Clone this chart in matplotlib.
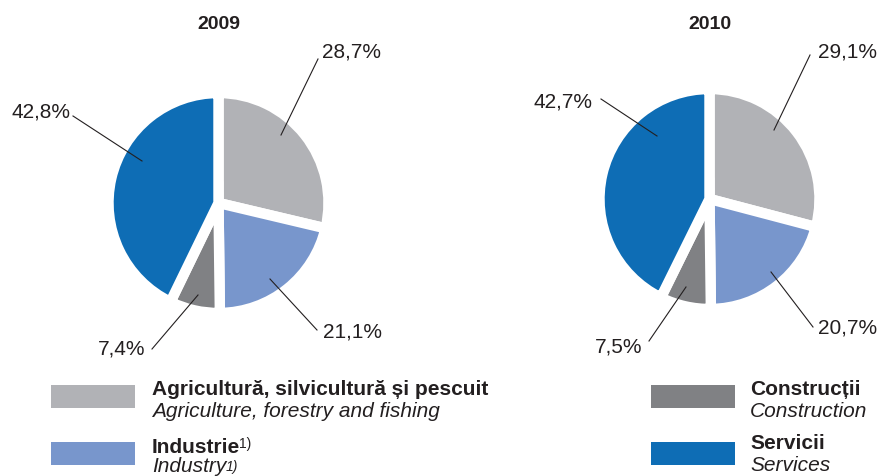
import matplotlib.pyplot as plt
from matplotlib.patches import Rectangle

plt.rcParams['font.family'] = ['Liberation Sans', 'DejaVu Sans']

W, H = 882, 477
TXT = '#231f20'

years = ['2009', '2010']
sectoare = ['Agricultură, silvicultură și pescuit', 'Industrie', 'Construcții', 'Servicii']
sectors = ['Agriculture, forestry and fishing', 'Industry', 'Construction', 'Services']
val_2009 = [28.7, 21.1, 7.4, 42.8]
val_2010 = [29.1, 20.7, 7.5, 42.7]
colors = ['#b1b2b6', '#7896cc', '#808184', '#0e6db5']

# layout in pixels (y from top)
centers = [(218.5, 204), (709.5, 200)]
radius = 110
# label: (x, baseline y, ha), line: (x0, y0, x1, y1)
labels_pos = [
    [(322, 58, 'left'), (323, 337, 'left'), (145, 355, 'right'), (70, 117, 'right')],
    [(818, 57, 'left'), (818, 334, 'left'), (642, 353, 'right'), (592, 107, 'right')],
]
lines_pos = [
    [(318, 60, 281, 136), (317, 331, 270, 280), (152, 350, 198, 296), (73, 117, 142, 162)],
    [(810, 56, 774, 131), (813, 328, 771, 273), (649, 342, 686, 288), (601, 100, 657, 137)],
]

fig = plt.figure(figsize=(8.82, 4.77), dpi=100)
ax = fig.add_axes([0, 0, 1, 1])

for k, vals in enumerate([val_2009, val_2010]):
    cx, cy = centers[k]
    ax.pie(vals, colors=colors, startangle=90, counterclock=False,
           center=(cx, H - cy), radius=radius, frame=True,
           wedgeprops=dict(edgecolor='white', linewidth=7.5))
    ax.text(cx, H - 29, years[k], ha='center', va='baseline',
            fontsize=14, fontweight='bold', color=TXT)
    for i, v in enumerate(vals):
        tx, ty, ha = labels_pos[k][i]
        ax.text(tx, H - ty, f'{v:.1f}%'.replace('.', ','), ha=ha, va='baseline',
                fontsize=15, color=TXT)
        x0, y0, x1, y1 = lines_pos[k][i]
        ax.plot([x0, x1], [H - y0, H - y1], color=TXT, lw=0.8)

# legend
leg_patch = [(51, 386), (51, 443), (651, 386), (651, 443)]
leg_text = [(152, 395, 417), (152, 453, 472), (750, 395, 417), (750, 449, 471)]
for i in range(4):
    px, py = leg_patch[i]
    ax.add_patch(Rectangle((px, H - py - 23), 84, 23, color=colors[i], lw=0))
    tx, b1, b2 = leg_text[i]
    t1 = ax.text(tx, H - b1, sectoare[i], fontsize=15, fontweight='bold',
                 color=TXT, va='baseline')
    t2 = ax.text(tx, H - b2, sectors[i], fontsize=15, style='italic',
                 color=TXT, va='baseline')
    if i == 1:
        ax.annotate('1)', xy=(1, 1), xycoords=t1, xytext=(-1, 1),
                    textcoords='offset points', fontsize=10, color=TXT,
                    va='top', ha='left')
        ax.annotate('1)', xy=(1, 0.85), xycoords=t2, xytext=(-0.5, 0),
                    textcoords='offset points', fontsize=10, style='italic',
                    color=TXT, va='top', ha='left')

ax.set_xlim(0, W)
ax.set_ylim(0, H)
ax.set_aspect('equal')
ax.axis('off')

fig.savefig('out.png', dpi=100)
